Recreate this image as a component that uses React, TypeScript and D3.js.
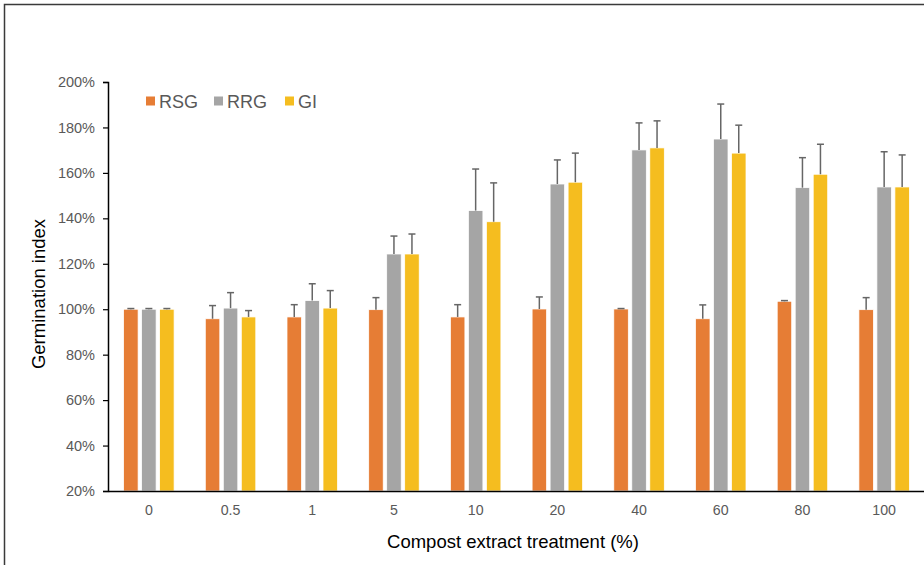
import React, { useEffect, useRef } from 'react';
import * as d3 from 'd3';

const categories = ['0', '0.5', '1', '5', '10', '20', '40', '60', '80', '100'];
const seriesNames = ['RSG', 'RRG', 'GI'];

const rsg = [100, 95.8, 96.6, 99.8, 96.6, 100.1, 100.1, 95.8, 103.5, 99.8];
const rsgErr = [0.3, 5.8, 5.4, 5.3, 5.4, 5.3, 0.2, 6.1, 0.3, 5.3];
const rrg = [100, 100.5, 103.8, 124.3, 143.4, 155.1, 170.1, 174.9, 153.5, 153.8];
const rrgErr = [0.3, 6.8, 7.4, 7.9, 18.3, 10.6, 11.9, 15.4, 13.2, 15.5];
const gi = [100, 96.6, 100.5, 124.3, 138.5, 155.9, 171, 168.7, 159.4, 153.8];
const giErr = [0.3, 2.8, 7.7, 8.8, 17.1, 12.8, 11.9, 12.3, 13.2, 14.1];

const yTicks = [20, 40, 60, 80, 100, 120, 140, 160, 180, 200];

const colors = ['#E67D35', '#A5A5A5', '#F5BD1F'];

export default function App() {
  const chartRef = useRef(null);

  useEffect(() => {
    const svg = d3.select(chartRef.current);
    svg.selectAll('*').remove();

    const font = '"Liberation Sans", Arial, sans-serif';
    const left = 108, right = 925, top = 82, bottom = 491;

    // outer frame (right/bottom run off the page)
    svg.append('rect')
      .attr('x', 4.5).attr('y', 4.5)
      .attr('width', 960).attr('height', 600)
      .attr('fill', 'white')
      .attr('stroke', '#3a3a3a')
      .attr('stroke-width', 1.5);

    const x = d3.scaleBand().domain(categories).range([left, right]);
    const y = d3.scaleLinear().domain([20, 200]).range([bottom, top]);

    const values = [rsg, rrg, gi];
    const errs = [rsgErr, rrgErr, giErr];
    const barW = 14.5;
    const offsets = [-18, 0, 18];

    values.forEach((vals, s) => {
      const g = svg.append('g');
      g.selectAll('rect')
        .data(vals)
        .enter().append('rect')
        .attr('x', (d, i) => x(categories[i]) + x.bandwidth() / 2 + offsets[s] - barW / 2)
        .attr('y', d => y(d))
        .attr('width', barW)
        .attr('height', d => bottom - y(d))
        .attr('fill', colors[s])
        .attr('stroke', 'white')
        .attr('stroke-width', 0.75);

      // error bars
      const eg = svg.append('g').attr('stroke', '#666').attr('stroke-width', 1.5);
      vals.forEach((d, i) => {
        const cx = x(categories[i]) + x.bandwidth() / 2 + offsets[s];
        const yt = y(d + errs[s][i]);
        eg.append('line').attr('x1', cx).attr('x2', cx).attr('y1', y(d)).attr('y2', yt);
        eg.append('line').attr('x1', cx - 3.5).attr('x2', cx + 3.5).attr('y1', yt).attr('y2', yt);
      });
    });

    // y axis
    const yAxis = svg.append('g')
      .attr('transform', `translate(${left},0)`)
      .call(d3.axisLeft(y).tickValues(yTicks).tickSize(5).tickPadding(8).tickFormat(d => `${d}%`));
    yAxis.select('.domain').attr('stroke', '#000').attr('stroke-width', 1.5);
    yAxis.selectAll('.tick line').attr('stroke', '#000').attr('stroke-width', 1.2);
    yAxis.selectAll('.tick text')
      .attr('fill', '#595959').attr('font-size', 14.5).attr('font-family', font);

    // x axis
    const xAxis = svg.append('g')
      .attr('transform', `translate(0,${bottom})`)
      .call(d3.axisBottom(x).tickSize(0).tickPadding(14));
    xAxis.select('.domain').attr('stroke', '#000').attr('stroke-width', 1.5);
    xAxis.selectAll('.tick text')
      .attr('fill', '#595959').attr('font-size', 14.2).attr('font-family', font);

    // axis titles
    svg.append('text')
      .attr('transform', 'translate(45,294) rotate(-90)')
      .attr('text-anchor', 'middle')
      .attr('font-size', 18.5).attr('font-family', font).attr('fill', '#000')
      .text('Germination index');

    svg.append('text')
      .attr('x', 513).attr('y', 548)
      .attr('text-anchor', 'middle')
      .attr('font-size', 18.5).attr('font-family', font).attr('fill', '#000')
      .text('Compost extract treatment (%)');

    // legend
    const legendX = [146, 214, 285];
    seriesNames.forEach((name, i) => {
      svg.append('rect')
        .attr('x', legendX[i]).attr('y', 96.5)
        .attr('width', 9).attr('height', 9)
        .attr('fill', colors[i]);
      svg.append('text')
        .attr('x', legendX[i] + 13).attr('y', 107.5)
        .attr('font-size', 18).attr('font-family', font).attr('fill', '#595959')
        .text(name);
    });
  }, []);

  return (
    <svg
      ref={chartRef}
      width={924}
      height={565}
      style={{ position: 'absolute', left: 0, top: 0 }}
    />
  );
}
